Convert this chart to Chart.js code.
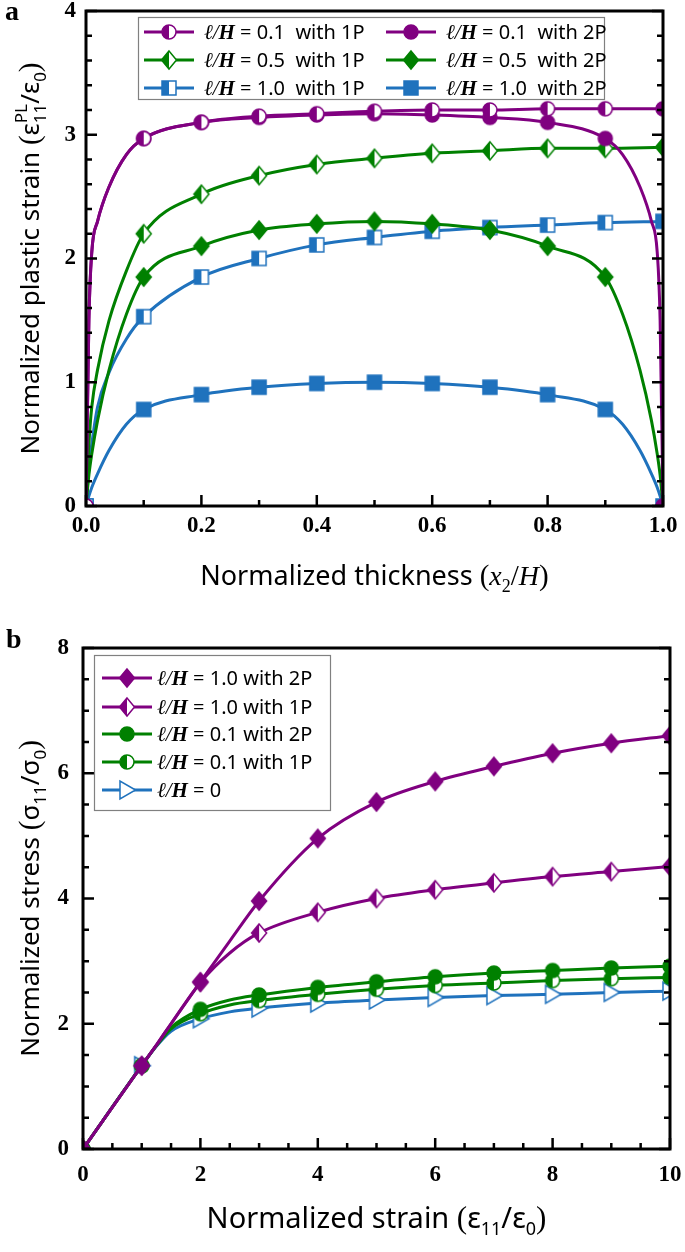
<!DOCTYPE html>
<html>
<head>
<meta charset="utf-8">
<script src="https://cdn.jsdelivr.net/npm/chart.js@4.4.1/dist/chart.umd.min.js"></script>
<style>
  body { margin: 0; background: #fff; width: 685px; height: 1252px; overflow: hidden; }
  .panel { position: relative; width: 685px; }
  #pa { height: 600px; }
  #pb { height: 652px; }
</style>
</head>
<body>
<div class="panel" id="pa"><canvas id="chartA"></canvas></div>
<div class="panel" id="pb"><canvas id="chartB"></canvas></div>
<script>
// ---- panel a : plastic strain across the thickness ----
const thickness1P = [0, 0.005, 0.01, 0.02, 0.04, 0.07, 0.1, 0.2, 0.3, 0.4, 0.5, 0.6, 0.7, 0.8, 0.9, 1.0];
const thickness2P = [0, 0.005, 0.01, 0.02, 0.04, 0.07, 0.1, 0.2, 0.3, 0.4, 0.5, 0.6, 0.7, 0.8, 0.9, 0.93, 0.96, 0.98, 0.99, 0.995, 1.0];
const plStrainL01_1P = [0, 1.5, 2.05, 2.3, 2.58, 2.84, 2.97, 3.10, 3.15, 3.17, 3.19, 3.20, 3.20, 3.21, 3.21, 3.21];
const plStrainL01_2P = [0, 1.5, 2.05, 2.3, 2.58, 2.84, 2.97, 3.10, 3.14, 3.16, 3.17, 3.16, 3.14, 3.10, 2.97, 2.84, 2.58, 2.3, 2.05, 1.5, 0];
const plStrainL05_1P = [0, 0.5, 0.8, 1.1, 1.5, 1.9, 2.2, 2.52, 2.67, 2.76, 2.81, 2.85, 2.87, 2.89, 2.89, 2.9];
const plStrainL05_2P = [0, 0.25, 0.42, 0.69, 1.1, 1.55, 1.85, 2.10, 2.23, 2.28, 2.30, 2.28, 2.23, 2.10, 1.85, 1.55, 1.1, 0.69, 0.42, 0.25, 0];
const plStrainL10_1P = [0, 0.3, 0.5, 0.8, 1.08, 1.35, 1.53, 1.85, 2.0, 2.11, 2.17, 2.22, 2.25, 2.27, 2.29, 2.3];
const plStrainL10_2P = [0, 0.08, 0.15, 0.26, 0.45, 0.66, 0.78, 0.90, 0.96, 0.99, 1.0, 0.99, 0.96, 0.90, 0.78, 0.66, 0.45, 0.26, 0.15, 0.08, 0];
const labelsA = ['ℓ/H = 0.1  with 1P', 'ℓ/H = 0.1  with 2P', 'ℓ/H = 0.5  with 1P',
                 'ℓ/H = 0.5  with 2P', 'ℓ/H = 1.0  with 1P', 'ℓ/H = 1.0  with 2P'];

// ---- panel b : stress-strain ----
const strainB = [0, 1, 1.25, 1.5, 2, 2.5, 3, 4, 5, 6, 7, 8, 9, 10];
const stressL10_2P = [0, 1.33, 1.66, 2.0, 2.67, 3.32, 3.96, 4.96, 5.54, 5.87, 6.11, 6.32, 6.48, 6.6];
const stressL10_1P = [0, 1.33, 1.66, 2.0, 2.66, 3.13, 3.45, 3.78, 4.0, 4.14, 4.25, 4.35, 4.43, 4.51];
const stressL01_2P = [0, 1.33, 1.65, 1.94, 2.23, 2.38, 2.46, 2.58, 2.67, 2.75, 2.81, 2.85, 2.89, 2.92];
const stressL01_1P = [0, 1.33, 1.65, 1.92, 2.16, 2.3, 2.37, 2.47, 2.55, 2.61, 2.65, 2.69, 2.72, 2.74];
const stressL0 = [0, 1.33, 1.64, 1.88, 2.08, 2.19, 2.25, 2.33, 2.38, 2.42, 2.45, 2.47, 2.5, 2.52];
const labelsB = ['ℓ/H = 1.0 with 2P', 'ℓ/H = 1.0 with 1P', 'ℓ/H = 0.1 with 2P', 'ℓ/H = 0.1 with 1P', 'ℓ/H = 0'];

const PURPLE = '#800080', GREEN = '#008000', BLUE = '#1f72bd';
const SANS = "'Noto Sans', 'DejaVu Sans', sans-serif";
const SERIF = "'Liberation Serif', 'DejaVu Serif', serif";

// marker pictures (full / half / open)
function makeMarker(shape, color, fill) {
  const s = 22, m = s / 2;
  const c = document.createElement('canvas');
  c.width = c.height = s;
  const g = c.getContext('2d');
  const path = () => {
    g.beginPath();
    if (shape === 'circle') g.arc(m, m, 7, 0, Math.PI * 2);
    if (shape === 'diamond') { g.moveTo(m, m - 9); g.lineTo(m + 7.5, m); g.lineTo(m, m + 9); g.lineTo(m - 7.5, m); g.closePath(); }
    if (shape === 'square') g.rect(m - 7, m - 7, 14, 14);
    if (shape === 'tri') { g.moveTo(m + 8.5, m); g.lineTo(m - 7, m - 9); g.lineTo(m - 7, m + 9); g.closePath(); }
  };
  path(); g.fillStyle = '#fff'; g.fill();
  if (fill === 'full') { g.fillStyle = color; g.fill(); }
  if (fill === 'half') {
    g.save(); path(); g.clip();
    g.fillStyle = color; g.fillRect(0, 0, m, s);
    g.restore();
  }
  path(); g.lineWidth = 1.5; g.strokeStyle = color; g.stroke();
  return c;
}

const onTenth = x => Math.abs(x * 10 - Math.round(x * 10)) < 1e-6;
const onInt = x => Math.abs(x - Math.round(x)) < 1e-6;

function series(label, xs, ys, color, marker, markAt) {
  return {
    label,
    data: xs.map((x, i) => ({ x, y: ys[i] })),
    borderColor: color,
    backgroundColor: color,
    borderWidth: 3,
    fill: false,
    cubicInterpolationMode: 'monotone',
    pointStyle: marker,
    pointRadius: ctx => (ctx.raw && markAt(ctx.raw.x)) ? 8 : 0
  };
}

// rich text: parts are {t, f} or {sub, sup, f}
function richWidth(ctx, parts) {
  let w = 0;
  parts.forEach(p => {
    ctx.font = p.f;
    if (p.t !== undefined) w += ctx.measureText(p.t).width;
    else w += Math.max(p.sub ? ctx.measureText(p.sub).width : 0, p.sup ? ctx.measureText(p.sup).width : 0);
  });
  return w;
}
function drawRich(ctx, parts, x, y) {
  parts.forEach(p => {
    ctx.font = p.f;
    if (p.t !== undefined) {
      ctx.fillText(p.t, x, y);
      x += ctx.measureText(p.t).width;
    } else {
      let w = 0;
      if (p.sub) { ctx.fillText(p.sub, x, y + 7); w = ctx.measureText(p.sub).width; }
      if (p.sup) { ctx.fillText(p.sup, x, y - 12); w = Math.max(w, ctx.measureText(p.sup).width); }
      x += w;
    }
  });
}

// inward ticks + frame
const framePlugin = {
  id: 'frame',
  afterDatasetsDraw(chart, args, o) {
    const { ctx, chartArea: a, scales: { x, y } } = chart;
    ctx.save();
    ctx.strokeStyle = '#000';
    ctx.lineWidth = 2.5;
    ctx.beginPath();
    for (let i = 0; i <= Math.round((o.yMax - o.yMin) / o.yMinor); i++) {
      const v = o.yMin + i * o.yMinor;
      const p = y.getPixelForValue(v);
      const L = Math.abs(v / o.yMajor - Math.round(v / o.yMajor)) < 1e-6 ? 11 : 6;
      ctx.moveTo(a.left, p); ctx.lineTo(a.left + L, p);
      ctx.moveTo(a.right, p); ctx.lineTo(a.right - L, p);
    }
    for (let i = 0; i <= Math.round((o.xMax - o.xMin) / o.xMinor); i++) {
      const v = o.xMin + i * o.xMinor;
      const p = x.getPixelForValue(v);
      const L = Math.abs(v / o.xMajor - Math.round(v / o.xMajor)) < 1e-6 ? 11 : 6;
      ctx.moveTo(p, a.bottom); ctx.lineTo(p, a.bottom - L);
    }
    ctx.stroke();
    ctx.lineWidth = 3;
    ctx.strokeRect(a.left, a.top, a.right - a.left, a.bottom - a.top);
    ctx.restore();
  }
};

// legend box, axis titles and panel letter
const decorPlugin = {
  id: 'decor',
  afterDraw(chart, args, o) {
    const { ctx, chartArea: a } = chart;
    ctx.save();
    ctx.textBaseline = 'alphabetic';
    ctx.textAlign = 'left';
    ctx.fillStyle = '#000';

    // legend
    const [bx, by, bw, bh] = o.box;
    ctx.fillStyle = '#fff';
    ctx.fillRect(bx, by, bw, bh);
    ctx.strokeStyle = '#808080';
    ctx.lineWidth = 1.2;
    ctx.strokeRect(bx + 0.5, by + 0.5, bw, bh);
    o.rows.forEach(r => {
      const ds = chart.data.datasets[r.ds];
      ctx.strokeStyle = ds.borderColor;
      ctx.lineWidth = 3;
      ctx.beginPath(); ctx.moveTo(r.mx - 25, r.my); ctx.lineTo(r.mx + 25, r.my); ctx.stroke();
      const mk = ds.pointStyle;
      ctx.drawImage(mk, r.mx - mk.width / 2, r.my - mk.height / 2);
      const rest = ds.label.slice(3);
      ctx.fillStyle = '#000';
      drawRich(ctx, [
        { t: 'ℓ/', f: 'italic 21px ' + SERIF },
        { t: 'H', f: 'italic bold 21px ' + SERIF },
        { t: rest, f: '20px ' + SANS }
      ], r.tx, r.my + 7);
    });

    // x title
    const xw = richWidth(ctx, o.xTitle);
    drawRich(ctx, o.xTitle, (a.left + a.right) / 2 - xw / 2, o.xTitleY);
    // y title
    const yw = richWidth(ctx, o.yTitle);
    ctx.translate(o.yTitleX, (a.top + a.bottom) / 2);
    ctx.rotate(-Math.PI / 2);
    drawRich(ctx, o.yTitle, -yw / 2, 0);
    ctx.setTransform(1, 0, 0, 1, 0, 0);

    ctx.font = 'bold 28px ' + SERIF;
    ctx.fillText(o.letter, o.letterX, o.letterY);
    ctx.restore();
  }
};

const tickFont = { family: SERIF, size: 23, weight: 'bold' };
function scaleOpts(min, max, step, fmt, isX, pad) {
  return {
    type: 'linear', min, max,
    grid: { display: false, drawTicks: false },
    border: { display: false },
    ticks: { stepSize: step, autoSkip: false, maxRotation: 0, padding: pad, color: '#000', font: tickFont, callback: fmt },
    afterFit(s) {
      if (isX) { s.height = 40; s.paddingLeft = 0; s.paddingRight = 0; }
      else { s.width = 40; s.paddingTop = 0; s.paddingBottom = 0; }
    }
  };
}

// title fonts
const TX = '27px ' + SANS, TXB = '29px ' + SANS, TY = '26px ' + SANS, SUB = '17px ' + SANS, PAR = '29px ' + SERIF;

// panel a
new Chart(document.getElementById('chartA'), {
  type: 'line',
  data: {
    datasets: [
      series(labelsA[0], thickness1P, plStrainL01_1P, PURPLE, makeMarker('circle', PURPLE, 'half'), onTenth),
      series(labelsA[1], thickness2P, plStrainL01_2P, PURPLE, makeMarker('circle', PURPLE, 'full'), onTenth),
      series(labelsA[2], thickness1P, plStrainL05_1P, GREEN, makeMarker('diamond', GREEN, 'half'), onTenth),
      series(labelsA[3], thickness2P, plStrainL05_2P, GREEN, makeMarker('diamond', GREEN, 'full'), onTenth),
      series(labelsA[4], thickness1P, plStrainL10_1P, BLUE, makeMarker('square', BLUE, 'half'), onTenth),
      series(labelsA[5], thickness2P, plStrainL10_2P, BLUE, makeMarker('square', BLUE, 'full'), onTenth)
    ]
  },
  options: {
    responsive: true, maintainAspectRatio: false, animation: false, devicePixelRatio: 1, events: [],
    layout: { padding: { left: 46, right: 22, top: 11, bottom: 54 } },
    scales: {
      x: scaleOpts(0, 1, 0.2, v => v.toFixed(1), true, 6),
      y: scaleOpts(0, 4, 1, v => v, false, 10)
    },
    plugins: {
      legend: { display: false }, tooltip: { enabled: false },
      frame: { xMin: 0, xMax: 1, xMinor: 0.1, xMajor: 0.2, yMin: 0, yMax: 4, yMinor: 0.2, yMajor: 1 },
      decor: {
        box: [138, 17, 466, 82],
        rows: [
          { ds: 0, mx: 169, my: 32, tx: 204 }, { ds: 1, mx: 411, my: 32, tx: 446 },
          { ds: 2, mx: 169, my: 60, tx: 204 }, { ds: 3, mx: 411, my: 60, tx: 446 },
          { ds: 4, mx: 169, my: 88, tx: 204 }, { ds: 5, mx: 411, my: 88, tx: 446 }
        ],
        xTitle: [
          { t: 'Normalized thickness ', f: TX }, { t: '(', f: PAR }, { t: 'x', f: 'italic 28px ' + SERIF },
          { sub: '2', f: '18px ' + SERIF }, { t: '/', f: PAR }, { t: 'H', f: 'italic 28px ' + SERIF }, { t: ')', f: PAR }
        ],
        xTitleY: 585,
        yTitle: [
          { t: 'Normalized plastic strain ', f: TY }, { t: '(', f: PAR }, { t: 'ε', f: TY },
          { sub: '11', sup: 'PL', f: SUB }, { t: '/ε', f: TY }, { sub: '0', f: SUB }, { t: ')', f: PAR }
        ],
        yTitleX: 39,
        letter: 'a', letterX: 5, letterY: 20
      }
    }
  },
  plugins: [framePlugin, decorPlugin]
});

// panel b
new Chart(document.getElementById('chartB'), {
  type: 'line',
  data: {
    datasets: [
      series(labelsB[0], strainB, stressL10_2P, PURPLE, makeMarker('diamond', PURPLE, 'full'), onInt),
      series(labelsB[1], strainB, stressL10_1P, PURPLE, makeMarker('diamond', PURPLE, 'half'), onInt),
      series(labelsB[2], strainB, stressL01_2P, GREEN, makeMarker('circle', GREEN, 'full'), onInt),
      series(labelsB[3], strainB, stressL01_1P, GREEN, makeMarker('circle', GREEN, 'half'), onInt),
      series(labelsB[4], strainB, stressL0, BLUE, makeMarker('tri', BLUE, 'none'), onInt)
    ]
  },
  options: {
    responsive: true, maintainAspectRatio: false, animation: false, devicePixelRatio: 1, events: [],
    layout: { padding: { left: 43, right: 15, top: 48, bottom: 63 } },
    scales: {
      x: scaleOpts(0, 10, 2, v => v, true, 12),
      y: scaleOpts(0, 8, 2, v => v, false, 14)
    },
    plugins: {
      legend: { display: false }, tooltip: { enabled: false },
      frame: { xMin: 0, xMax: 10, xMinor: 0.5, xMajor: 2, yMin: 0, yMax: 8, yMinor: 0.5, yMajor: 2 },
      decor: {
        box: [94, 55, 236, 155],
        rows: [
          { ds: 0, mx: 127, my: 78, tx: 157 },
          { ds: 1, mx: 127, my: 107, tx: 157 },
          { ds: 2, mx: 127, my: 134, tx: 157 },
          { ds: 3, mx: 127, my: 162, tx: 157 },
          { ds: 4, mx: 127, my: 190, tx: 157 }
        ],
        xTitle: [
          { t: 'Normalized strain ', f: TXB }, { t: '(', f: '31px ' + SERIF }, { t: 'ε', f: TXB },
          { sub: '11', f: '18px ' + SANS }, { t: '/ε', f: TXB }, { sub: '0', f: '18px ' + SANS }, { t: ')', f: '31px ' + SERIF }
        ],
        xTitleY: 628,
        yTitle: [
          { t: 'Normalized stress ', f: TY }, { t: '(', f: PAR }, { t: 'σ', f: TY },
          { sub: '11', f: SUB }, { t: '/σ', f: TY }, { sub: '0', f: SUB }, { t: ')', f: PAR }
        ],
        yTitleX: 39,
        letter: 'b', letterX: 6, letterY: 48
      }
    }
  },
  plugins: [framePlugin, decorPlugin]
});
</script>
</body>
</html>
